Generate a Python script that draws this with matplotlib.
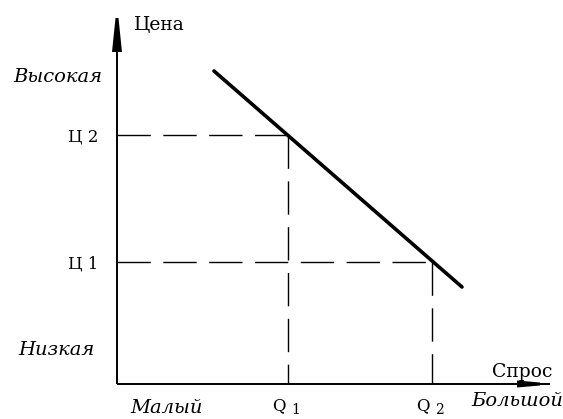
"""Demand curve: price vs. quantity demanded (schematic)."""

import matplotlib

matplotlib.use("Agg")
import matplotlib.pyplot as plt
from matplotlib.patches import Polygon

# demand line end points (quantity, price), arbitrary units
demand_q = [97, 345]
demand_p = [313, 97]
# marked points on the curve
points_q = [171, 315]
points_p = [249, 122]
price_labels = ["Ц 2", "Ц 1"]
qty_labels = ["Q", "Q"]
qty_subs = ["1", "2"]

SERIF = "DejaVu Serif"

fig = plt.figure(figsize=(5.63, 4.19), dpi=100)
ax = fig.add_axes([0, 0, 1, 1])
ax.set_xlim(-117, 446)
ax.set_ylim(-35, 384)
ax.axis("off")

# axes with arrow heads
ax.plot([0, 433], [0, 0], color="black", lw=1.4, solid_capstyle="butt")
ax.plot([0, 0], [0, 366], color="black", lw=1.4, solid_capstyle="butt")
ax.add_patch(Polygon([[400, -3.5], [400, 3.5], [423, 1.5], [423, -1.5]], closed=True, color="black", lw=0))
ax.add_patch(Polygon([[-5, 332], [5, 332], [1.5, 366], [-1.5, 366]], closed=True, color="black", lw=0))

# demand line
ax.plot(demand_q, demand_p, color="black", lw=2.6, solid_capstyle="round")

# dashed guides
for q, p in zip(points_q, points_p):
    ax.plot([0, q], [p, p], color="black", lw=1.0, dashes=(24, 9))
    ax.plot([q, q], [p, 0], color="black", lw=1.0, dashes=(24, 9))

# price marks
for p, lab in zip(points_p, price_labels):
    ax.text(-19, p - 2, lab, ha="right", va="center", fontsize=12, family=SERIF)

# quantity marks
for q, lab, sub in zip(points_q, qty_labels, qty_subs):
    ax.text(q - 2, -22, lab, ha="right", va="center", fontsize=12, family=SERIF)
    ax.text(q + 3, -26, sub, ha="left", va="center", fontsize=10, family=SERIF)

ax.text(17, 359, "Цена", ha="left", va="center", fontsize=13.5, family=SERIF)
ax.text(375, 12, "Спрос", ha="left", va="center", fontsize=13.5, family=SERIF)
ax.text(-15, 307, "Высокая", ha="right", va="center", fontsize=14, family=SERIF, style="italic")
ax.text(-22, 34, "Низкая", ha="right", va="center", fontsize=14, family=SERIF, style="italic")
ax.text(13, -24, "Малый", ha="left", va="center", fontsize=14, family=SERIF, style="italic")
ax.text(446, -17, "Большой", ha="right", va="center", fontsize=14, family=SERIF, style="italic")

fig.savefig("out.png", dpi=100)
plt.close(fig)
